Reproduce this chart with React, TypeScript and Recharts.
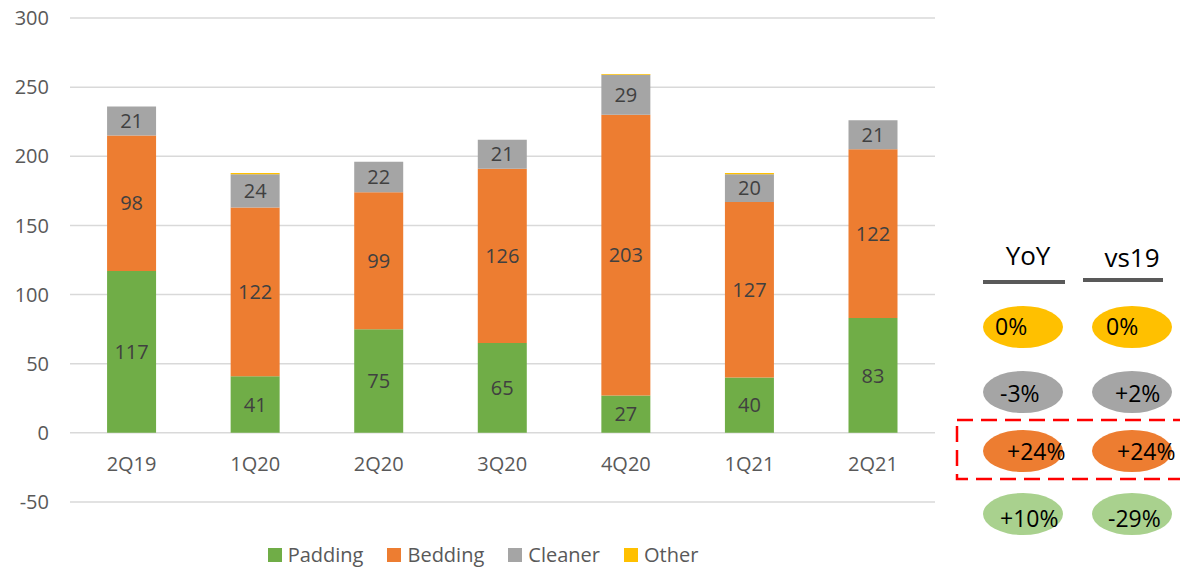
import React from 'react';
import { BarChart, Bar, XAxis, YAxis, CartesianGrid, Legend, LabelList } from 'recharts';

const categories = ['2Q19', '1Q20', '2Q20', '3Q20', '4Q20', '1Q21', '2Q21'];
const padding = [117, 41, 75, 65, 27, 40, 83];
const bedding = [98, 122, 99, 126, 203, 127, 122];
const cleaner = [21, 24, 22, 21, 29, 20, 21];
const other = [0, 1, 0, 0, 0.5, 1, 0];
const yTicks = [-50, 0, 50, 100, 150, 200, 250, 300];
const seriesOrder = ['Padding', 'Bedding', 'Cleaner', 'Other'];

const panelHeaders = ['YoY', 'vs19'];
const yoyValues = ['0%', '-3%', '+24%', '+10%'];
const vs19Values = ['0%', '+2%', '+24%', '-29%'];
const panelColors = ['#FFC000', '#A5A5A5', '#ED7D31', '#A9D18E'];

const data = categories.map((c, i) => ({
  category: c,
  Padding: padding[i],
  Bedding: bedding[i],
  Cleaner: cleaner[i],
  Other: other[i],
}));

const FONT = '"Open Sans", "Noto Sans", sans-serif';

const renderLegend = (props: any) => {
  const payload = [...(props.payload || [])].sort(
    (a: any, b: any) => seriesOrder.indexOf(a.value) - seriesOrder.indexOf(b.value)
  );
  return (
    <div style={{ display: 'flex', justifyContent: 'center', alignItems: 'center', height: 36, fontSize: 20, lineHeight: '28px', color: '#595959', fontFamily: FONT }}>
      {payload.map((entry: any, i: number) => (
        <div key={i} style={{ display: 'flex', alignItems: 'center', marginRight: i === payload.length - 1 ? 0 : 24 }}>
          <span style={{ display: 'inline-block', width: 14, height: 14, background: entry.color, marginRight: 6 }} />
          <span>{entry.value}</span>
        </div>
      ))}
    </div>
  );
};

// layout of the side panel (page coordinates)
const colCx = [1023, 1132];
const rowCy = [327, 392, 451, 514];
const rowBase = [335, 402, 460, 527];
const textX = [[995, 1000, 1007, 1000], [1106, 1115, 1117, 1108]];

export default function App() {
  const cols = [yoyValues, vs19Values];
  return (
    <div style={{ position: 'relative', width: 1180, height: 559, fontFamily: FONT }}>
      <BarChart
        width={940}
        height={559}
        data={data}
        margin={{ top: 10, right: 13, left: 0, bottom: 29 }}
        barCategoryGap="30%"
      >
        <CartesianGrid vertical={false} stroke="#d9d9d9" strokeWidth={1.5} />
        <XAxis dataKey="category" hide />
        <YAxis
          domain={[-50, 300]}
          ticks={yTicks}
          interval={0}
          axisLine={false}
          tickLine={false}
          width={62}
          tickMargin={15}
          tick={{ fill: '#595959', fontSize: 20 }}
        />
        <Legend
          content={renderLegend}
          verticalAlign="bottom"
          wrapperStyle={{ top: 529, bottom: 'auto', left: 0, width: 950, height: 36 }}
        />
        <Bar dataKey="Padding" stackId="a" fill="#70AD47" isAnimationActive={false}>
          <LabelList dataKey="Padding" position="center" fill="#404040" fontSize={20} />
          <LabelList dataKey="category" position="bottom" offset={24} fill="#595959" fontSize={20} />
        </Bar>
        <Bar dataKey="Bedding" stackId="a" fill="#ED7D31" isAnimationActive={false}>
          <LabelList dataKey="Bedding" position="center" fill="#404040" fontSize={20} />
        </Bar>
        <Bar dataKey="Cleaner" stackId="a" fill="#A5A5A5" isAnimationActive={false}>
          <LabelList dataKey="Cleaner" position="center" fill="#404040" fontSize={20} />
        </Bar>
        <Bar dataKey="Other" stackId="a" fill="#FFC000" isAnimationActive={false} />
      </BarChart>
      <svg
        width={1188}
        height={567}
        style={{ position: 'absolute', left: -8, top: -8, pointerEvents: 'none', fontFamily: FONT }}
      >
        <text x={1028} y={265} textAnchor="middle" fontSize={26} fill="#000">{panelHeaders[0]}</text>
        <text x={1132} y={267} textAnchor="middle" fontSize={26} fill="#000">{panelHeaders[1]}</text>
        <line x1={983} x2={1065} y1={282} y2={282} stroke="#595959" strokeWidth={4} />
        <line x1={1083} x2={1163} y1={280} y2={280} stroke="#595959" strokeWidth={4} />
        {cols.map((vals, ci) =>
          vals.map((v, ri) => (
            <g key={`${ci}-${ri}`}>
              <ellipse cx={colCx[ci]} cy={rowCy[ri]} rx={40} ry={21} fill={panelColors[ri]} />
              <text x={textX[ci][ri]} y={rowBase[ri]} fontSize={23} fill="#000">{v}</text>
            </g>
          ))
        )}
        <rect x={957} y={420} width={240} height={59} fill="none" stroke="#FF0000" strokeWidth={2.5} strokeDasharray="16 8" />
      </svg>
    </div>
  );
}
